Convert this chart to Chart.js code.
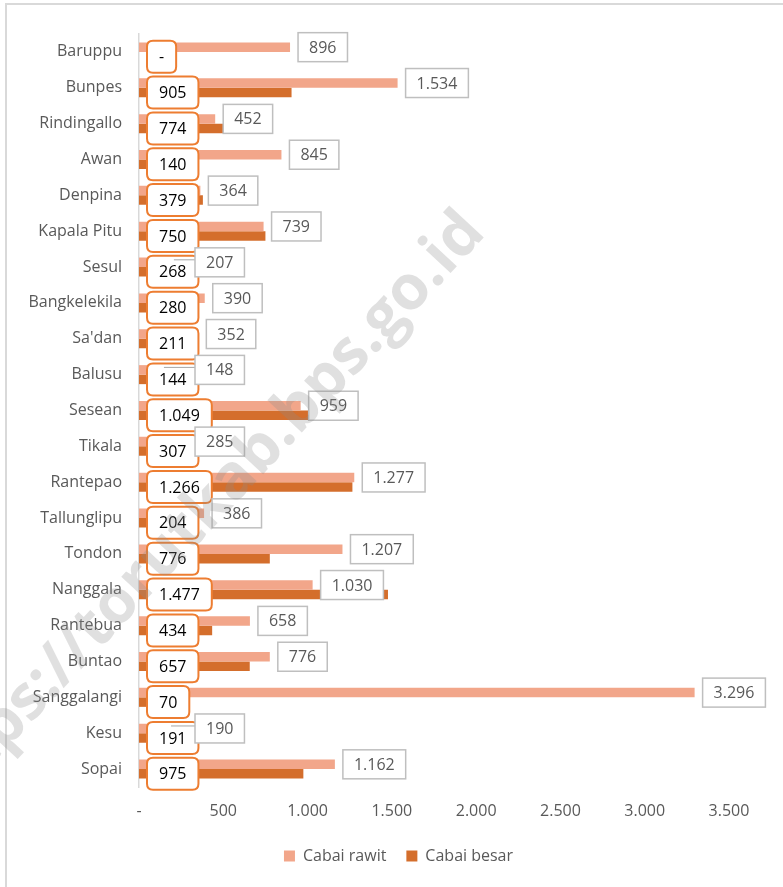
<!DOCTYPE html>
<html>
<head>
<meta charset="utf-8">
<script src="https://cdn.jsdelivr.net/npm/chart.js@4.4.1/dist/chart.umd.min.js"></script>
<style>
  html, body { margin: 0; padding: 0; background: #fff; }
  #wrap { width: 783px; height: 887px; }
</style>
</head>
<body>
<div id="wrap"><canvas id="mainChart" width="783" height="887"></canvas></div>
<script>
'use strict';

const categories = ['Baruppu', 'Bunpes', 'Rindingallo', 'Awan', 'Denpina', 'Kapala Pitu', 'Sesul',
    'Bangkelekila', "Sa'dan", 'Balusu', 'Sesean', 'Tikala', 'Rantepao', 'Tallunglipu', 'Tondon',
    'Nanggala', 'Rantebua', 'Buntao', 'Sanggalangi', 'Kesu', 'Sopai'];
const cabaiRawit = [896, 1534, 452, 845, 364, 739, 207, 390, 352, 148, 959, 285, 1277, 386, 1207,
    1030, 658, 776, 3296, 190, 1162];
const cabaiBesar = [0, 905, 774, 140, 379, 750, 268, 280, 211, 144, 1049, 307, 1266, 204, 776,
    1477, 434, 657, 70, 191, 975];
const xMax = 3500;
const xStep = 500;
const seriesNames = ['Cabai rawit', 'Cabai besar'];
const watermark = 'https://torutkab.bps.go.id';

const FONT = '"Open Sans", sans-serif';
const COLORS = { rawit: '#F2A68A', besar: '#D46E2C', boxLine: '#ED7D31', grayLine: '#BFBFBF', text: '#595959' };

// Indonesian number style: 1.534, zero shown as "-"
function fmt(v) {
    if (!v) return '-';
    return String(v).replace(/\B(?=(\d{3})+(?!\d))/g, '.');
}

function roundRect(ctx, x, y, w, h, r) {
    ctx.beginPath();
    ctx.moveTo(x + r, y);
    ctx.lineTo(x + w - r, y);
    ctx.quadraticCurveTo(x + w, y, x + w, y + r);
    ctx.lineTo(x + w, y + h - r);
    ctx.quadraticCurveTo(x + w, y + h, x + w - r, y + h);
    ctx.lineTo(x + r, y + h);
    ctx.quadraticCurveTo(x, y + h, x, y + h - r);
    ctx.lineTo(x, y + r);
    ctx.quadraticCurveTo(x, y, x + r, y);
    ctx.closePath();
}

const frame = {
    id: 'frame',
    afterLayout(chart) {
        // legend sits centred on the page, not on the plot
        if (chart.legend) {
            chart.legend.left += 30;
            chart.legend.right += 30;
        }
    },
    beforeDraw(chart) {
        const ctx = chart.ctx;
        ctx.save();
        ctx.fillStyle = '#fff';
        ctx.fillRect(0, 0, chart.width, chart.height);
        ctx.strokeStyle = '#D9D9D9';
        ctx.lineWidth = 2;
        ctx.beginPath();
        ctx.moveTo(6, chart.height);
        ctx.lineTo(6, 4);
        ctx.lineTo(chart.width, 4);
        ctx.stroke();
        ctx.restore();
    }
};

const valueLabels = {
    id: 'valueLabels',
    afterDatasetsDraw(chart) {
        const ctx = chart.ctx;
        const x0 = chart.scales.x.getPixelForValue(0);
        const metaR = chart.getDatasetMeta(0);
        const metaB = chart.getDatasetMeta(1);
        ctx.save();
        ctx.font = '16px ' + FONT;
        ctx.textBaseline = 'middle';
        ctx.textAlign = 'center';

        // Cabai besar: rounded orange callouts near the axis
        metaB.data.forEach((bar, i) => {
            const txt = fmt(cabaiBesar[i]);
            const w = ctx.measureText(txt).width + 24;
            const h = 32;
            const left = x0 + 8;
            const top = bar.y - h / 2;
            roundRect(ctx, left, top, w, h, 6);
            ctx.fillStyle = '#fff';
            ctx.fill();
            ctx.strokeStyle = COLORS.boxLine;
            ctx.lineWidth = 2;
            ctx.stroke();
            ctx.fillStyle = '#000';
            ctx.fillText(txt, left + w / 2, bar.y + 1);
        });

        // Cabai rawit: grey boxes after the bar end
        metaR.data.forEach((bar, i) => {
            const txt = fmt(cabaiRawit[i]);
            const w = ctx.measureText(txt).width + 22;
            const h = 29;
            const end = bar.x;
            const left = Math.max(end + 8, x0 + 56);
            if (left - end > 16) {
                ctx.strokeStyle = '#A6A6A6';
                ctx.lineWidth = 1;
                ctx.beginPath();
                ctx.moveTo(end, bar.y - 2.5);
                ctx.lineTo(left, bar.y - 2.5);
                ctx.stroke();
            }
            ctx.fillStyle = '#fff';
            ctx.fillRect(left, bar.y - h / 2, w, h);
            ctx.strokeStyle = COLORS.grayLine;
            ctx.lineWidth = 1.5;
            ctx.strokeRect(left, bar.y - h / 2, w, h);
            ctx.fillStyle = COLORS.text;
            ctx.fillText(txt, left + w / 2, bar.y + 1);
        });
        ctx.restore();
    },
    afterDraw(chart) {
        const ctx = chart.ctx;
        ctx.save();
        ctx.translate(487, 234);
        ctx.rotate(-47 * Math.PI / 180);
        ctx.font = 'bold 62px ' + FONT;
        ctx.textAlign = 'right';
        ctx.textBaseline = 'alphabetic';
        ctx.fillStyle = 'rgba(140,140,140,0.27)';
        ctx.fillText(watermark, 0, 0);
        ctx.restore();
    }
};

Chart.defaults.font.family = FONT;

const chart = new Chart(document.getElementById('mainChart').getContext('2d'), {
    type: 'bar',
    data: {
        labels: categories,
        datasets: [
            { label: seriesNames[0], data: cabaiRawit, backgroundColor: COLORS.rawit },
            { label: seriesNames[1], data: cabaiBesar, backgroundColor: COLORS.besar }
        ]
    },
    options: {
        indexAxis: 'y',
        responsive: false,
        animation: false,
        devicePixelRatio: 1,
        datasets: { bar: { categoryPercentage: 0.53, barPercentage: 1.0 } },
        layout: { padding: { top: 34, right: 54, left: 8, bottom: 13 } },
        plugins: {
            legend: {
                position: 'bottom',
                labels: {
                    color: COLORS.text, boxWidth: 11, boxHeight: 11, padding: 20,
                    font: { size: 16 }
                }
            },
            tooltip: { enabled: false }
        },
        scales: {
            x: {
                min: 0, max: xMax,
                ticks: { stepSize: xStep, callback: v => fmt(v), color: COLORS.text, font: { size: 16 }, padding: 15, maxRotation: 0 },
                grid: { display: false, drawTicks: false },
                border: { display: false },
                afterFit: s => { s.height = 41; }
            },
            y: {
                ticks: { color: COLORS.text, font: { size: 16 }, padding: 17 },
                grid: { display: false, drawTicks: false },
                border: { display: true, color: '#D9D9D9', width: 1.5 },
                afterFit: s => { s.width = 131; }
            }
        }
    },
    plugins: [frame, valueLabels]
});
</script>
</body>
</html>
